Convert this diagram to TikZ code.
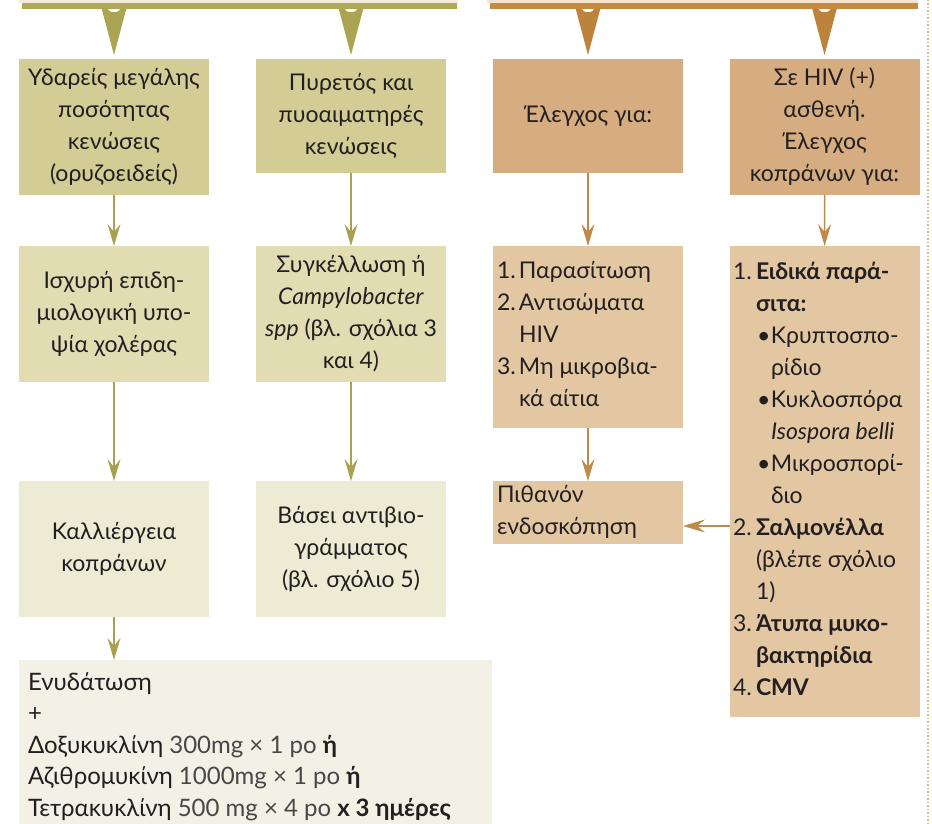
\documentclass[tikz,border=0pt]{standalone}
\usepackage{fontspec}
\setmainfont{Lato}
\usetikzlibrary{arrows.meta}
\definecolor{gbar}{HTML}{AFA858}
\definecolor{gwedge}{HTML}{ABA453}
\definecolor{gline}{HTML}{A9A152}
\definecolor{gA}{HTML}{D3CC95}
\definecolor{gB}{HTML}{E1DCB2}
\definecolor{gC}{HTML}{EEEBD4}
\definecolor{gD}{HTML}{F3F1E6}
\definecolor{obar}{HTML}{C28A42}
\definecolor{owedge}{HTML}{BB833B}
\definecolor{oline}{HTML}{BF8A47}
\definecolor{oA}{HTML}{D6AD80}
\definecolor{oB}{HTML}{E3C7A3}
\definecolor{gstrip}{HTML}{F2EDDA}
\definecolor{ostrip}{HTML}{F4E4CD}
\definecolor{dotc}{HTML}{C9C27C}
\definecolor{ink}{HTML}{231F20}
\definecolor{ink2}{HTML}{4A4546}
\begin{document}
\begin{tikzpicture}[x=1pt,y=-1pt,
  box/.style={inner sep=0pt, outer sep=0pt, text=ink, align=center,
    font=\fontsize{23pt}{32pt}\selectfont},
  txt/.style={inner sep=0pt, outer sep=0pt, text=ink, align=left, anchor=north west,
    font=\fontsize{23pt}{32pt}\selectfont},
  garrow/.style={draw=gline, line width=1.5pt, -{Stealth[length=22pt,width=13pt,inset=8pt]}},
  oarrow/.style={draw=oline, line width=1.5pt, -{Stealth[length=22pt,width=13pt,inset=8pt]}}]
\useasboundingbox (0,0) rectangle (932,824);

% dotted margin line
\draw[dotc, line width=1.5pt, dotted] (928,0) -- (928,824);

% top strips and wedges
\fill[gstrip] (19,0) rectangle (458,3);
\fill[ostrip] (487,0) rectangle (918,3);
\foreach \cx in {114,351}{
  \fill[gwedge] (\cx-12.5,8) -- (\cx+12.5,8) -- (\cx,55) -- cycle;
  \fill[white] (\cx,9) ellipse (6 and 3);
}
\foreach \cx in {588,824.5}{
  \fill[owedge] (\cx-12.5,8) -- (\cx+12.5,8) -- (\cx,55) -- cycle;
  \fill[white] (\cx,9) ellipse (6 and 3);
}
\node[fill=gbar, inner sep=0pt, minimum width=435pt, minimum height=6pt] (gbarn) at (239.5,6) {};
\node[fill=obar, inner sep=0pt, minimum width=428pt, minimum height=6pt] (obarn) at (704,6) {};

% row 1
\node[box, fill=gA, minimum width=190pt, minimum height=136pt] (A) at (114,127)
  {\strut Υδαρείς μεγάλης\\ποσότητας\\κενώσεις\\(ορυζοειδείς)\strut};
\node[box, fill=gA, minimum width=190pt, minimum height=114pt] (B) at (351,116)
  {\strut Πυρετός και\\πυοαιματηρές\\κενώσεις\strut};
\node[box, fill=oA, minimum width=190pt, minimum height=114pt] (C) at (588,116)
  {\strut Έλεγχος για:\strut};
\node[box, fill=oA, minimum width=190pt, minimum height=136pt] (D) at (824.5,127)
  {\strut Σε HIV (+)\\ασθενή.\\Έλεγχος\\κοπράνων για:\strut};

% row 2
\node[box, fill=gB, minimum width=190pt, minimum height=136pt] (E) at (114,314)
  {\strut Ισχυρή επιδη-\\μιολογική υπο-\\ψία χολέρας\strut};
\node[box, fill=gB, minimum width=190pt, minimum height=136pt] (F) at (351,314)
  {\strut Συγκέλλωση ή\\\textit{Campylobacter}\\\textit{spp} (βλ. σχόλια 3\\και 4)\strut};
\node[box, fill=oB, minimum width=190pt, minimum height=182pt] (G) at (588,337) {};
\node[txt] (Gt) at (497,255.6)
  {\strut\makebox[22pt][l]{1.}Παρασίτωση\\
   \makebox[22pt][l]{2.}Αντισώματα\\
   \hspace*{22pt}HIV\\
   \makebox[22pt][l]{3.}Μη μικροβια-\\
   \hspace*{22pt}κά αίτια};
\node[box, fill=oB, minimum width=190pt, minimum height=471pt] (H) at (825,481.5) {};
\node[txt] (Ht) at (733,256.6)
  {\strut\makebox[23pt][l]{1.}\textbf{Ειδικά παρά-}\\
   \hspace*{23pt}\textbf{σιτα:}\\
   \hspace*{24pt}\makebox[14pt][l]{•}Κρυπτοσπο-\\
   \hspace*{38pt}ρίδιο\\
   \hspace*{24pt}\makebox[14pt][l]{•}Κυκλοσπόρα\\
   \hspace*{38pt}\textit{Isospora belli}\\
   \hspace*{24pt}\makebox[14pt][l]{•}Μικροσπορί-\\
   \hspace*{38pt}διο\\
   \makebox[23pt][l]{2.}\textbf{Σαλμονέλλα}\\
   \hspace*{23pt}(βλέπε σχόλιο\\
   \hspace*{23pt}1)\\
   \makebox[23pt][l]{3.}\textbf{Άτυπα μυκο-}\\
   \hspace*{23pt}\textbf{βακτηρίδια}\\
   \makebox[23pt][l]{4.}\textbf{CMV}};

% row 3
\node[box, fill=gC, minimum width=190pt, minimum height=136pt] (I) at (114,549)
  {\strut Καλλιέργεια\\κοπράνων\strut};
\node[box, fill=gC, minimum width=190pt, minimum height=136pt] (J) at (351,549)
  {\strut Βάσει αντιβιο-\\γράμματος\\(βλ. σχόλιο 5)\strut};
\node[box, fill=oB, minimum width=190pt, minimum height=63pt] (K) at (588,512.5) {};
\node[txt] (Kt) at (497,480.5) {\strut Πιθανόν\\ενδοσκόπηση};

% bottom box
\node[box, fill=gD, minimum width=473pt, minimum height=164pt] (L) at (255.5,742) {};
\node[txt, font=\fontsize{24pt}{31.5pt}\selectfont] (Lt) at (28,668)
  {\strut Ενυδάτωση\\
   +\\
   Δοξυκυκλίνη {\color{ink2}300mg × 1 po} \textbf{ή}\\
   Αζιθρομυκίνη {\color{ink2}1000mg × 1 po} \textbf{ή}\\
   Τετρακυκλίνη {\color{ink2}500 mg × 4 po} \textbf{x 3 ημέρες}};

% connectors
\draw[garrow] (A) -- (E);
\draw[garrow] (B) -- (F);
\draw[garrow] (E) -- (I);
\draw[garrow] (F) -- (J);
\draw[garrow] (I) -- (L.north -| I);
\draw[oarrow] (C) -- (G);
\draw[oarrow] (D) -- (H);
\draw[oarrow] (G) -- (K);
\coordinate (hk) at (730,526);
\draw[oarrow] (hk) -- (K.east |- hk);
\end{tikzpicture}
\end{document}
